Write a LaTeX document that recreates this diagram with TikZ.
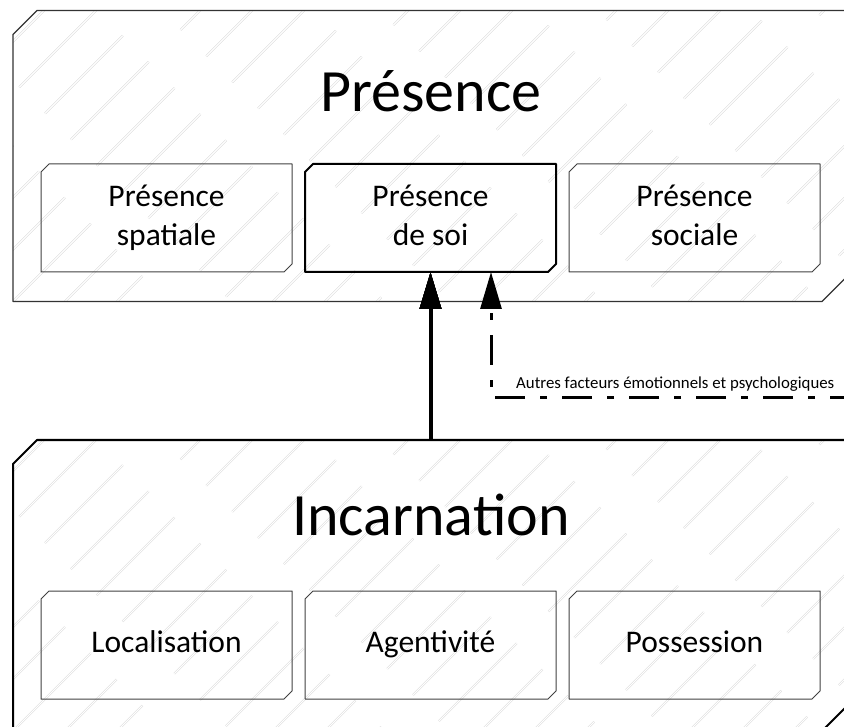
\documentclass[tikz,border=0pt]{standalone}
\usepackage{fontspec}
\setmainfont{Carlito}
\usetikzlibrary{positioning,arrows.meta}

\tikzset{
  hachure/.style={draw=black!20, line width=0.35pt, double=white, double distance=1.1pt,
    dash pattern=on 110pt off 45pt},
  hachures/.style={path picture={\foreach \k in {-7,...,17}
      \draw[hachure, dash phase=\k*37pt] ([xshift=\k*52pt]path picture bounding box.south west) -- ++(330pt,330pt);}},
  bloc/.style={rectangle, inner sep=0pt, outer sep=0pt, minimum width=833pt, minimum height=291pt},
  sousbloc/.style={rectangle, inner sep=0pt, outer sep=0pt, minimum width=251pt, minimum height=108pt,
    align=center, font=\fontsize{31.5}{39}\selectfont},
  titre/.style={anchor=base, font=\fontsize{60}{64}\selectfont},
  trait/.style={draw=black!75, line width=1pt},
}
% contour a coins chanfreines (haut gauche, bas droite)
\newcommand\chanfrein[3]{%
  \draw[#1] ([yshift=-#3]#2.north west) -- ([xshift=#3]#2.north west) -- (#2.north east)
    -- ([yshift=#3]#2.south east) -- ([xshift=-#3]#2.south east) -- (#2.south west) -- cycle;}

\begin{document}
\begin{tikzpicture}[x=1pt, y=-1pt, line join=round]
  \useasboundingbox (0,0) rectangle (844,727);
  \clip (0,0) rectangle (844,727);
  % blocs principaux
  \node[bloc] (presence) at (429.5,156) {};
  \node[bloc] (incarnation) at (429.5,585.5) {};
  \chanfrein{draw=black!80, line width=1.3pt, hachures}{presence}{24pt}
  \chanfrein{draw=black, line width=2pt, hachures}{incarnation}{24pt}
  \node[titre] (tpresence) at (431,112) {Présence};
  \node[titre] (tincarnation) at (431,535) {Incarnation};
  % sous-blocs
  \node[sousbloc] (soi) at (430.5,218) {Présence\strut\\de soi\strut};
  \node[sousbloc, left=13pt of soi] (spatiale) {Présence\strut\\spatiale\strut};
  \node[sousbloc, right=13pt of soi] (sociale) {Présence\strut\\sociale\strut};
  \node[sousbloc] (agentivite) at (430.5,645) {Agentivité\strut};
  \node[sousbloc, left=13pt of agentivite] (localisation) {Localisation\strut};
  \node[sousbloc, right=13pt of agentivite] (possession) {Possession\strut};
  \chanfrein{draw=black, line width=2pt}{soi}{8pt}
  \foreach \n in {spatiale,sociale,localisation,agentivite,possession}
    \chanfrein{trait}{\n}{8pt}
  % fleches
  \draw[line width=4pt, -{Triangle[length=37pt,width=21pt]}] (soi.south |- incarnation.north) -- (soi.south);
  \coordinate (autres) at (860,398);
  \coordinate (coude) at (491,398);
  \draw[line width=3pt, dash pattern=on 30pt off 15pt on 7pt off 15pt,
    -{Triangle[length=37pt,width=21pt]}] (autres) -- (coude) -- (coude |- soi.south);
  \node[anchor=base west, inner sep=0pt, font=\fontsize{16.8}{19}\selectfont] (lautres) at (516,389)
    {Autres facteurs émotionnels et psychologiques};
\end{tikzpicture}
\end{document}
